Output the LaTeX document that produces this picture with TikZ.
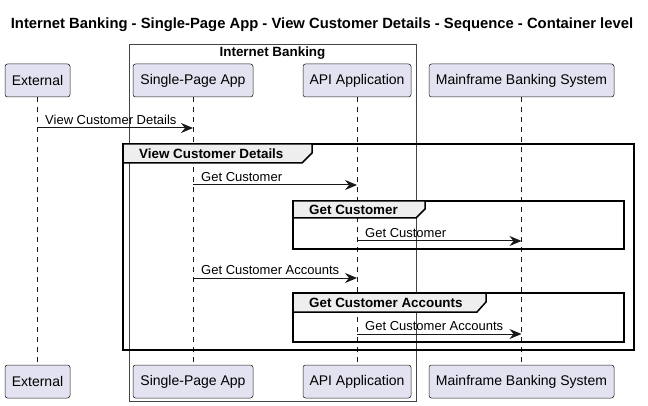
\documentclass[tikz,border=0pt]{standalone}
\usepackage{fontspec}
\setmainfont{Liberation Sans}
\usetikzlibrary{arrows.meta}

\definecolor{partfill}{RGB}{226,226,240}
\definecolor{partline}{RGB}{24,24,24}
\definecolor{tabfill}{RGB}{238,238,238}
\definecolor{boxline}{RGB}{68,68,68}

\begin{document}
\begin{tikzpicture}[x=1pt,y=-1pt,>={Stealth[length=12pt,width=10pt,inset=4pt]},
        part/.style={draw=partline,line width=0.5pt,fill=partfill,rounded corners=2.5pt,
          minimum height=33pt,inner sep=0pt,font=\fontsize{14}{16}\selectfont},
        lifeline/.style={draw=partline,line width=0.5pt,dash pattern=on 5pt off 5pt},
        msg/.style={->,line width=1pt,draw=partline},
        msglabel/.style={anchor=south west,inner sep=0pt,font=\fontsize{13}{15}\selectfont},
        frame/.style={draw=black,line width=1.5pt},
        tab/.style={draw=black,line width=1.5pt,fill=tabfill},
        tablabel/.style={anchor=west,inner sep=0pt,font=\fontsize{13.4}{15}\selectfont\bfseries}]

  \useasboundingbox (0,0) rectangle (648,406);

  \node[font=\fontsize{14.8}{17}\selectfont\bfseries] (title) at (322,25)
    {Internet Banking - Single-Page App - View Customer Details - Sequence - Container level};

  % boundary
  \draw[boxline,line width=0.7pt] (129,44) rectangle (416,401);
  \node[font=\fontsize{13.4}{15}\selectfont\bfseries] (ib) at (272.5,53) {Internet Banking};

  % participants
  \node[part,minimum width=65pt]  (ext_top) at (37.5,80.5) {External};
  \node[part,minimum width=120pt] (spa_top) at (193,80.5) {Single-Page App};
  \node[part,minimum width=108pt] (api_top) at (357,80.5) {API Application};
  \node[part,minimum width=185pt] (mf_top)  at (521.5,80.5) {Mainframe Banking System};

  \node[part,minimum width=65pt]  (ext_bot) at (37.5,381.5) {External};
  \node[part,minimum width=120pt] (spa_bot) at (193,381.5) {Single-Page App};
  \node[part,minimum width=108pt] (api_bot) at (357,381.5) {API Application};
  \node[part,minimum width=185pt] (mf_bot)  at (521.5,381.5) {Mainframe Banking System};

  \draw[lifeline] (ext_top) -- (ext_bot);
  \draw[lifeline] (spa_top) -- (spa_bot);
  \draw[lifeline] (api_top) -- (api_bot);
  \draw[lifeline] (mf_top) -- (mf_bot);

  % groups
  \draw[frame] (123,144) rectangle (634,350);
  \draw[tab] (123,144) -- (312,144) -- (312,153) -- (302,163) -- (123,163) -- cycle;
  \node[tablabel] (g1) at (139,153.5) {View Customer Details};

  \draw[frame] (293,201) rectangle (624,249);
  \draw[tab] (293,201) -- (425,201) -- (425,209) -- (416,218) -- (293,218) -- cycle;
  \node[tablabel] (g2) at (309,209.5) {Get Customer};

  \draw[frame] (293,293) rectangle (624,342);
  \draw[tab] (293,293) -- (486,293) -- (486,302) -- (477,312) -- (293,312) -- cycle;
  \node[tablabel] (g3) at (309,302.5) {Get Customer Accounts};

  % messages
  \draw[msg] (ext_top.south |- 0,128) -- (spa_top.south |- 0,128);
  \node[msglabel] (m1) at (45,125) {View Customer Details};

  \draw[msg] (spa_top.south |- 0,185) -- (api_top.south |- 0,185);
  \node[msglabel] (m2) at (201,182) {Get Customer};

  \draw[msg] (api_top.south |- 0,241) -- (mf_top.south |- 0,241);
  \node[msglabel] (m3) at (365,238) {Get Customer};

  \draw[msg] (spa_top.south |- 0,278) -- (api_top.south |- 0,278);
  \node[msglabel] (m4) at (201,275) {Get Customer Accounts};

  \draw[msg] (api_top.south |- 0,334) -- (mf_top.south |- 0,334);
  \node[msglabel] (m5) at (365,331) {Get Customer Accounts};

\end{tikzpicture}
\end{document}
